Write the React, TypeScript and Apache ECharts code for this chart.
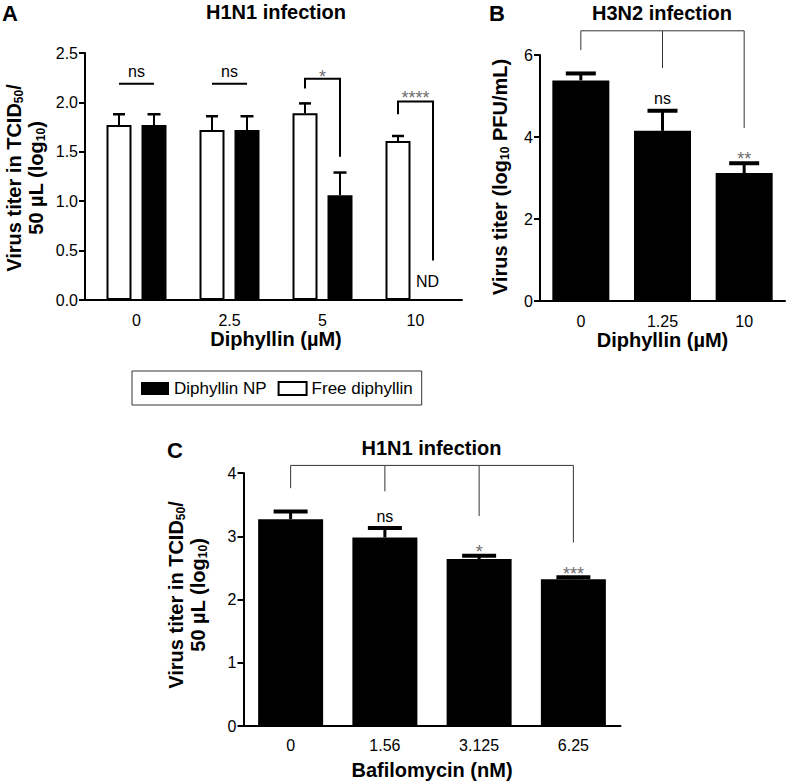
import React, { useEffect, useRef } from 'react';
import * as echarts from 'echarts';

// ---------- Panel A: H1N1, diphyllin ----------
const catsA = ['0', '2.5', '5', '10'];
const freeA = [1.77, 1.72, 1.89, 1.61];
const freeErrA = [1.88, 1.86, 1.99, 1.66];
const npA: (number | null)[] = [1.77, 1.72, 1.06, null]; // 10 µM: ND
const npErrA: (number | null)[] = [1.88, 1.86, 1.29, null];
const sigLabelA = ['ns', 'ns', '*', '****'];
const sigTopA = [2.19, 2.19, 2.24, 2.01];
const sigLeftEndA = [2.19, 2.19, 2.14, 1.88];
const sigRightEndA = [2.19, 2.19, 1.45, 0.4];
const sigTextA = [2.31, 2.31, 2.31, 2.1];
const ndGroupA = 3;
const ndTextA = 0.19;

// ---------- Panel B: H3N2, diphyllin ----------
const catsB = ['0', '1.25', '10'];
const valB = [5.38, 4.15, 3.12];
const errB = [5.55, 4.64, 3.36];
const bracketTopB = 6.59;
const bracketLegB = [6.12, 5.68, 4.22];
const sigLabelB = ['', 'ns', '**'];
const sigTextB = [0, 4.93, 3.58];

// ---------- Panel C: H1N1, bafilomycin ----------
const catsC = ['0', '1.56', '3.125', '6.25'];
const valC = [3.27, 2.98, 2.64, 2.32];
const errC = [3.39, 3.13, 2.69, 2.35];
const bracketTopC = 4.12;
const bracketLegC = [3.76, 3.71, 3.32, 2.9];
const sigLabelC = ['', 'ns', '*', '***'];
const sigTextC = [0, 3.32, 2.83, 2.48];

const FONT = '"Liberation Sans", Arial, Helvetica, sans-serif';
const OFF_A = 17.5; // half distance between paired bar centres in A

function errRender(offset: number, capHalf: number, lw: number, capW: number) {
  return (params: any, api: any) => {
    const x = api.value(0);
    const p1 = api.coord([x, api.value(1)]);
    const p2 = api.coord([x, api.value(2)]);
    const cx = p1[0] + offset;
    return {
      type: 'group',
      children: [
        { type: 'line', shape: { x1: cx, y1: p1[1], x2: cx, y2: p2[1] }, style: { stroke: '#000', lineWidth: lw } },
        { type: 'line', shape: { x1: cx - capHalf, y1: p2[1], x2: cx + capHalf, y2: p2[1] }, style: { stroke: '#000', lineWidth: capW } },
      ],
    };
  };
}

function sigText(text: string, x: number, y: number, size: number) {
  const star = text.indexOf('*') >= 0;
  return {
    type: 'text',
    x,
    y: y + (star ? 5 : 0),
    style: {
      text,
      fill: star ? '#6e6e6e' : '#000',
      fontSize: star ? 18 : size,
      fontFamily: FONT,
      align: 'center',
      verticalAlign: 'middle',
    },
  };
}

function bracketRender(labels: string[], lw: number, color: string, n: number) {
  return (params: any, api: any) => {
    const i = params.dataIndex;
    const g = api.value(0);
    const leg = api.coord([g, api.value(1)]);
    const top = api.coord([g, api.value(2)]);
    const children: any[] = [
      { type: 'line', shape: { x1: leg[0], y1: leg[1], x2: top[0], y2: top[1] }, style: { stroke: color, lineWidth: lw } },
    ];
    if (i < n - 1) {
      const nxt = api.coord([g + 1, api.value(2)]);
      children.push({ type: 'line', shape: { x1: top[0], y1: top[1], x2: nxt[0], y2: nxt[1] }, style: { stroke: color, lineWidth: lw } });
    }
    if (labels[i]) {
      const t = api.coord([g, api.value(3)]);
      children.push(sigText(labels[i], t[0], t[1], 16));
    }
    return { type: 'group', children };
  };
}

function xAxisCfg(gridIndex: number, data: string[], name: string, labelMargin: number, nameGap: number) {
  return {
    type: 'category',
    gridIndex,
    data,
    axisLine: { lineStyle: { color: '#000', width: 2 } },
    axisTick: { alignWithLabel: true, length: 6, lineStyle: { color: '#000', width: 2 } },
    axisLabel: { color: '#000', fontSize: 16, fontFamily: FONT, margin: labelMargin },
    name,
    nameLocation: 'middle',
    nameGap,
    nameMoveOverlap: false,
    nameTextStyle: { color: '#000', fontSize: 20, fontWeight: 'bold', fontFamily: FONT },
  };
}

function yAxisCfg(gridIndex: number, max: number, interval: number, digits: number, offset: number) {
  return {
    type: 'value',
    gridIndex,
    min: 0,
    max,
    interval,
    offset,
    axisLine: { show: true, lineStyle: { color: '#000', width: 2 } },
    axisTick: { show: true, length: 6, lineStyle: { color: '#000', width: 2 } },
    splitLine: { show: false },
    axisLabel: {
      color: '#000',
      fontSize: 16,
      fontFamily: FONT,
      margin: 7,
      formatter: (v: number) => v.toFixed(digits),
    },
  };
}

export default function App() {
  const ref = useRef<HTMLDivElement>(null);

  useEffect(() => {
    document.body.style.margin = '0';
    const chart = echarts.init(ref.current!, undefined, { renderer: 'svg' });

    const rich = {
      b: { fontSize: 20, fontWeight: 'bold', fontFamily: FONT, fill: '#000', lineHeight: 22 },
      s: { fontSize: 12, fontWeight: 'bold', fontFamily: FONT, fill: '#000', lineHeight: 12, verticalAlign: 'bottom' },
    };
    const titleStyle = (text: string, size: number) => ({
      text,
      fontSize: size,
      fontWeight: 'bold',
      fontFamily: FONT,
      fill: '#000',
      align: 'center',
      verticalAlign: 'middle',
    });

    const option: any = {
      animation: false,
      textStyle: { fontFamily: FONT },
      grid: [
        { left: 90, top: 53, width: 372, height: 247 },
        { left: 540, top: 55, width: 245, height: 246 },
        { left: 243.5, top: 473, width: 377, height: 253 },
      ],
      xAxis: [
        xAxisCfg(0, catsA, 'Diphyllin (µM)', 12, 29),
        xAxisCfg(1, catsB, 'Diphyllin (µM)', 12, 29),
        xAxisCfg(2, catsC, 'Bafilomycin (nM)', 11, 34),
      ],
      yAxis: [yAxisCfg(0, 2.5, 0.5, 1, 5), yAxisCfg(1, 6, 2, 0, 0), yAxisCfg(2, 4, 1, 0, 0)],
      legend: {
        data: ['Diphyllin NP', 'Free diphyllin'],
        left: 132,
        top: 371,
        icon: 'rect',
        itemWidth: 28,
        itemHeight: 13,
        itemGap: 11,
        padding: [9, 9, 8, 9],
        borderColor: '#333',
        borderWidth: 1,
        textStyle: { fontSize: 17, color: '#000', fontFamily: FONT },
      },
      graphic: [
        { type: 'line', shape: { x1: 84, y1: 300, x2: 91, y2: 300 }, style: { stroke: '#000', lineWidth: 2 } },
        { type: 'text', x: 10, y: 13, style: titleStyle('A', 22) },
        { type: 'text', x: 497, y: 13, style: titleStyle('B', 22) },
        { type: 'text', x: 175, y: 450, style: titleStyle('C', 22) },
        { type: 'text', x: 276, y: 12, style: titleStyle('H1N1 infection', 20) },
        { type: 'text', x: 662, y: 13, style: titleStyle('H3N2 infection', 20) },
        { type: 'text', x: 431.5, y: 448, style: titleStyle('H1N1 infection', 20) },
        {
          type: 'text', x: 25, y: 178, rotation: Math.PI / 2,
          style: {
            text: '{b|Virus titer in TCID}{s|50}{b|/}\n{b|50 µL (log}{s|10}{b|)}',
            rich, align: 'center', verticalAlign: 'middle',
          },
        },
        {
          type: 'text', x: 500, y: 177, rotation: Math.PI / 2,
          style: {
            text: '{b|Virus titer (log}{s|10}{b| PFU/mL)}',
            rich, align: 'center', verticalAlign: 'middle',
          },
        },
        {
          type: 'text', x: 187, y: 595, rotation: Math.PI / 2,
          style: {
            text: '{b|Virus titer in TCID}{s|50}{b|/}\n{b|50 µL (log}{s|10}{b|)}',
            rich, align: 'center', verticalAlign: 'middle',
          },
        },
      ],
      series: [
        // ---- A ----
        {
          name: 'Free diphyllin', type: 'bar', xAxisIndex: 0, yAxisIndex: 0, data: freeA,
          barWidth: 25, barGap: '40%', z: 3,
          itemStyle: { color: '#fff', borderColor: '#000', borderWidth: 2 },
        },
        {
          name: 'Diphyllin NP', type: 'bar', xAxisIndex: 0, yAxisIndex: 0, data: npA,
          barWidth: 25, barGap: '40%', z: 3,
          itemStyle: { color: '#000', borderColor: '#000', borderWidth: 0 },
        },
        {
          type: 'custom', xAxisIndex: 0, yAxisIndex: 0,
          data: freeA.map((v, i) => [i, v, freeErrA[i]]),
          encode: { x: 0, y: [1, 2] },
          renderItem: errRender(-OFF_A, 6, 2, 2.5),
        },
        {
          type: 'custom', xAxisIndex: 0, yAxisIndex: 0,
          data: npA.map((v, i) => [i, v, npErrA[i]]).filter((d) => d[1] != null),
          encode: { x: 0, y: [1, 2] },
          renderItem: errRender(OFF_A, 6.5, 2, 2.5),
        },
        {
          type: 'custom', xAxisIndex: 0, yAxisIndex: 0, clip: false,
          data: catsA.map((_, i) => [i, sigTopA[i], sigLeftEndA[i], sigRightEndA[i], sigTextA[i]]),
          encode: { x: 0, y: [1, 2, 3, 4] },
          renderItem: (params: any, api: any) => {
            const i = params.dataIndex;
            const g = api.value(0);
            const top = api.coord([g, api.value(1)]);
            const l = api.coord([g, api.value(2)]);
            const r = api.coord([g, api.value(3)]);
            const t = api.coord([g, api.value(4)]);
            const xl = top[0] - OFF_A;
            const xr = top[0] + OFF_A;
            return {
              type: 'group',
              children: [
                {
                  type: 'polyline',
                  shape: { points: [[xl, l[1]], [xl, top[1]], [xr, top[1]], [xr, r[1]]] },
                  style: { stroke: '#000', lineWidth: 2, fill: 'none' },
                },
                sigText(sigLabelA[i], top[0], t[1], 16),
              ],
            };
          },
        },
        {
          type: 'custom', xAxisIndex: 0, yAxisIndex: 0,
          data: [[ndGroupA, ndTextA]],
          encode: { x: 0, y: 1 },
          renderItem: (params: any, api: any) => {
            const p = api.coord([api.value(0), api.value(1)]);
            return sigText('ND', p[0] + 12, p[1], 16);
          },
        },
        // ---- B ----
        {
          type: 'bar', xAxisIndex: 1, yAxisIndex: 1, data: valB, barWidth: 57, z: 3,
          itemStyle: { color: '#000' },
        },
        {
          type: 'custom', xAxisIndex: 1, yAxisIndex: 1,
          data: valB.map((v, i) => [i, v, errB[i]]),
          encode: { x: 0, y: [1, 2] },
          renderItem: errRender(0, 15, 3, 4),
        },
        {
          type: 'custom', xAxisIndex: 1, yAxisIndex: 1, clip: false,
          data: catsB.map((_, i) => [i, bracketLegB[i], bracketTopB, sigTextB[i]]),
          encode: { x: 0, y: [1, 2, 3] },
          renderItem: bracketRender(sigLabelB, 1, '#333', catsB.length),
        },
        // ---- C ----
        {
          type: 'bar', xAxisIndex: 2, yAxisIndex: 2, data: valC, barWidth: 65, z: 3,
          itemStyle: { color: '#000' },
        },
        {
          type: 'custom', xAxisIndex: 2, yAxisIndex: 2,
          data: valC.map((v, i) => [i, v, errC[i]]),
          encode: { x: 0, y: [1, 2] },
          renderItem: errRender(0, 17, 3, 4),
        },
        {
          type: 'custom', xAxisIndex: 2, yAxisIndex: 2, clip: false,
          data: catsC.map((_, i) => [i, bracketLegC[i], bracketTopC, sigTextC[i]]),
          encode: { x: 0, y: [1, 2, 3] },
          renderItem: bracketRender(sigLabelC, 1, '#333', catsC.length),
        },
      ],
    };

    chart.setOption(option);
    return () => chart.dispose();
  }, []);

  return <div ref={ref} style={{ position: 'fixed', left: 0, top: 0, width: 786, height: 783, background: '#fff' }} />;
}
